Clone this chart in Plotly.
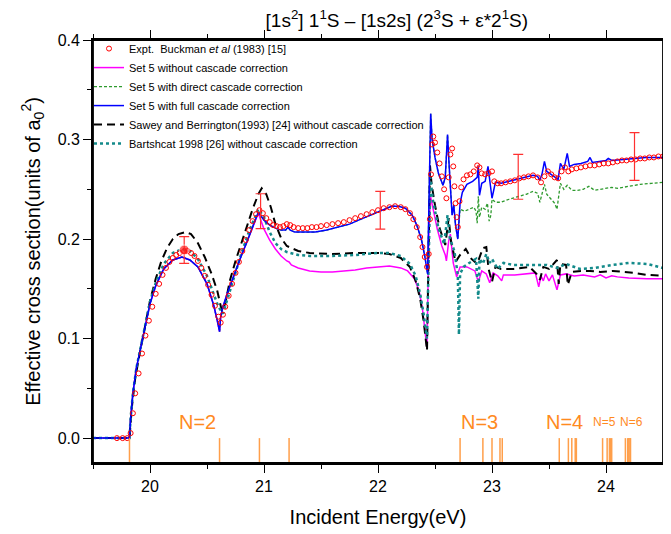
import plotly.graph_objects as go

# ---------------- data ----------------
# Experiment (Buckman et al 1983)
expt_e = [19.71, 19.76, 19.80, 19.83, 19.85, 19.87, 19.90, 19.93, 19.96, 19.99, 20.02, 20.05, 20.08, 20.11,
          20.14, 20.17, 20.20, 20.23, 20.26, 20.30, 20.33, 20.36, 20.39, 20.42, 20.45, 20.48, 20.51, 20.54,
          20.57, 20.60, 20.62, 20.64, 20.66, 20.69, 20.72, 20.75, 20.78, 20.81, 20.84, 20.87, 20.90, 20.93,
          20.96, 20.99, 21.02, 21.05, 21.08, 21.11, 21.14, 21.17, 21.20, 21.23, 21.26, 21.30, 21.34, 21.38,
          21.42, 21.46, 21.50, 21.55, 21.60, 21.65, 21.70, 21.75, 21.80, 21.85, 21.90, 21.95, 22.00, 22.05,
          22.10, 22.15, 22.20, 22.24, 22.28, 22.31, 22.34, 22.37, 22.39, 22.41, 22.43, 22.445, 22.455, 22.465,
          22.475, 22.485, 22.50, 22.52, 22.54, 22.56, 22.58, 22.60, 22.62, 22.635, 22.65, 22.66, 22.67, 22.68,
          22.69, 22.70, 22.715, 22.73, 22.75, 22.78, 22.81, 22.84, 22.87, 22.89, 22.91, 22.94, 22.97, 23.00,
          23.02, 23.05, 23.08, 23.12, 23.16, 23.20, 23.24, 23.28, 23.32, 23.36, 23.40, 23.43, 23.46, 23.49,
          23.52, 23.55, 23.58, 23.61, 23.64, 23.67, 23.70, 23.74, 23.78, 23.82, 23.86, 23.90, 23.94, 23.98,
          24.02, 24.06, 24.10, 24.14, 24.18, 24.22, 24.26, 24.30, 24.34, 24.38, 24.42, 24.46, 24.50]
expt_v = [0.0, 0.0, 0.0, 0.005, 0.025, 0.045, 0.065, 0.085, 0.103, 0.118, 0.132, 0.145, 0.155, 0.164,
          0.171, 0.177, 0.181, 0.184, 0.186, 0.188, 0.188, 0.186, 0.183, 0.178, 0.171, 0.163, 0.154, 0.144,
          0.133, 0.122, 0.116, 0.124, 0.132, 0.143, 0.155, 0.166, 0.177, 0.188, 0.199, 0.209, 0.218, 0.225,
          0.229, 0.226, 0.221, 0.217, 0.214, 0.213, 0.212, 0.213, 0.215, 0.214, 0.212, 0.211, 0.211, 0.211,
          0.212, 0.212, 0.213, 0.214, 0.215, 0.216, 0.217, 0.219, 0.221, 0.223, 0.225, 0.227, 0.229, 0.231,
          0.232, 0.233, 0.232, 0.230, 0.226, 0.220, 0.212, 0.202, 0.192, 0.182, 0.172, 0.185, 0.220, 0.265,
          0.295, 0.303, 0.297, 0.287, 0.276, 0.263, 0.250, 0.241, 0.262, 0.285, 0.291, 0.273, 0.253, 0.236,
          0.222, 0.212, 0.238, 0.252, 0.260, 0.264, 0.265, 0.268, 0.274, 0.272, 0.266, 0.265, 0.266, 0.268,
          0.258, 0.256, 0.256, 0.257, 0.258, 0.259, 0.261, 0.262, 0.263, 0.264, 0.262, 0.257, 0.263, 0.268,
          0.265, 0.262, 0.261, 0.268, 0.272, 0.268, 0.270, 0.271, 0.272, 0.273, 0.274, 0.274, 0.275, 0.276,
          0.276, 0.277, 0.278, 0.279, 0.279, 0.280, 0.280, 0.281, 0.281, 0.282, 0.282, 0.283, 0.283]

# Experimental error bars
bar_e = [20.30, 20.97, 22.02, 23.23, 24.25]
bar_v = [0.189, 0.228, 0.229, 0.2625, 0.283]
bar_err = [0.0135, 0.0175, 0.019, 0.0225, 0.024]

# Set 5 without cascade correction
nocas_e = [19.50, 19.82, 19.83, 19.85, 19.88, 19.92, 19.96, 20.00, 20.05, 20.12, 20.20, 20.28, 20.35, 20.42,
           20.50, 20.56, 20.59, 20.61, 20.62, 20.64, 20.68, 20.73, 20.80, 20.85, 20.90, 20.95, 21.00, 21.05,
           21.10, 21.15, 21.20, 21.22, 21.24, 21.30, 21.40, 21.50, 21.60, 21.70, 21.80, 21.90, 22.00, 22.10,
           22.20, 22.26, 22.32, 22.36, 22.39, 22.41, 22.43, 22.445, 22.46, 22.48, 22.52, 22.56, 22.59, 22.60,
           22.62, 22.635, 22.66, 22.69, 22.72, 22.78, 22.85, 22.88, 22.91, 22.95, 22.98, 23.01, 23.05, 23.085,
           23.10, 23.20, 23.33, 23.38, 23.41, 23.43, 23.45, 23.47, 23.50, 23.53, 23.57, 23.60, 23.65, 23.72,
           23.80, 23.90, 23.95, 24.00, 24.05, 24.10, 24.20, 24.36, 24.50]
nocas_v = [0.0, 0.0, 0.02, 0.045, 0.07, 0.092, 0.113, 0.135, 0.153, 0.170, 0.179, 0.182, 0.179, 0.172,
           0.155, 0.133, 0.118, 0.107, 0.122, 0.132, 0.146, 0.162, 0.183, 0.197, 0.212, 0.226, 0.210, 0.199,
           0.190, 0.183, 0.178, 0.177, 0.174, 0.171, 0.168, 0.167, 0.167, 0.168, 0.169, 0.171, 0.172, 0.173,
           0.171, 0.168, 0.160, 0.148, 0.130, 0.112, 0.090, 0.200, 0.243, 0.232, 0.210, 0.193, 0.184, 0.178,
           0.198, 0.205, 0.176, 0.162, 0.172, 0.172, 0.168, 0.157, 0.168, 0.165, 0.156, 0.166, 0.163, 0.158,
           0.164, 0.164, 0.165, 0.166, 0.152, 0.163, 0.158, 0.165, 0.158, 0.164, 0.149, 0.164, 0.165, 0.163,
           0.164, 0.162, 0.164, 0.161, 0.163, 0.162, 0.161, 0.160, 0.160]

# Set 5 with full cascade correction
full_e = [19.50, 19.82, 19.83, 19.85, 19.88, 19.92, 19.96, 20.00, 20.05, 20.12, 20.20, 20.28, 20.35, 20.42,
          20.50, 20.56, 20.59, 20.61, 20.62, 20.63, 20.64, 20.68, 20.73, 20.80, 20.85, 20.90, 20.95, 21.00,
          21.05, 21.10, 21.15, 21.19, 21.21, 21.23, 21.27, 21.35, 21.45, 21.55, 21.65, 21.75, 21.85, 21.95,
          22.05, 22.12, 22.18, 22.24, 22.30, 22.34, 22.38, 22.41, 22.435, 22.45, 22.462, 22.475, 22.50, 22.53,
          22.57, 22.59, 22.61, 22.625, 22.65, 22.665, 22.68, 22.70, 22.72, 22.74, 22.78, 22.83, 22.87, 22.88,
          22.89, 22.91, 22.94, 22.965, 22.98, 23.00, 23.03, 23.08, 23.15, 23.22, 23.30, 23.36, 23.40, 23.42,
          23.44, 23.46, 23.48, 23.52, 23.56, 23.58, 23.60, 23.63, 23.66, 23.68, 23.72, 23.78, 23.84, 23.86,
          23.88, 23.95, 24.00, 24.02, 24.05, 24.15, 24.25, 24.35, 24.50]
full_v = [0.0, 0.0, 0.02, 0.045, 0.07, 0.092, 0.113, 0.135, 0.153, 0.170, 0.179, 0.182, 0.179, 0.172,
          0.155, 0.133, 0.118, 0.107, 0.122, 0.128, 0.132, 0.146, 0.162, 0.183, 0.197, 0.212, 0.227, 0.219,
          0.214, 0.211, 0.209, 0.209, 0.212, 0.209, 0.207, 0.207, 0.207, 0.209, 0.212, 0.215, 0.220, 0.225,
          0.230, 0.233, 0.233, 0.231, 0.224, 0.214, 0.200, 0.183, 0.165, 0.250, 0.326, 0.300, 0.282, 0.266,
          0.254, 0.262, 0.305, 0.272, 0.224, 0.234, 0.214, 0.200, 0.236, 0.247, 0.255, 0.258, 0.262, 0.273,
          0.244, 0.256, 0.258, 0.273, 0.258, 0.241, 0.257, 0.256, 0.258, 0.260, 0.262, 0.264, 0.263, 0.259,
          0.266, 0.278, 0.268, 0.265, 0.262, 0.260, 0.276, 0.270, 0.286, 0.273, 0.275, 0.276, 0.278, 0.282,
          0.277, 0.278, 0.279, 0.281, 0.279, 0.280, 0.281, 0.282, 0.282]

# Set 5 with direct cascade correction
direct_e = [19.50, 19.82, 19.83, 19.85, 19.88, 19.92, 19.96, 20.00, 20.05, 20.12, 20.20, 20.28, 20.35, 20.42,
            20.50, 20.56, 20.59, 20.61, 20.62, 20.64, 20.68, 20.73, 20.80, 20.85, 20.90, 20.95, 21.00, 21.05,
            21.10, 21.15, 21.19, 21.21, 21.23, 21.27, 21.35, 21.45, 21.55, 21.65, 21.75, 21.85, 21.95, 22.05,
            22.12, 22.18, 22.24, 22.30, 22.34, 22.38, 22.41, 22.435, 22.45, 22.462, 22.475, 22.50, 22.53, 22.57,
            22.59, 22.61, 22.625, 22.65, 22.665, 22.68, 22.70, 22.72, 22.76, 22.80, 22.84, 22.86, 22.87, 22.88,
            22.89, 22.91, 22.94, 22.96, 22.975, 22.99, 23.00, 23.03, 23.08, 23.15, 23.22, 23.30, 23.36, 23.40,
            23.42, 23.44, 23.46, 23.48, 23.52, 23.55, 23.57, 23.60, 23.63, 23.66, 23.70, 23.75, 23.80, 23.85,
            23.90, 23.95, 24.00, 24.05, 24.10, 24.20, 24.30, 24.40, 24.50]
direct_v = [0.0, 0.0, 0.02, 0.045, 0.07, 0.092, 0.113, 0.135, 0.153, 0.170, 0.179, 0.182, 0.179, 0.172,
            0.155, 0.133, 0.118, 0.107, 0.122, 0.132, 0.146, 0.162, 0.183, 0.197, 0.212, 0.227, 0.219, 0.214,
            0.211, 0.209, 0.209, 0.212, 0.209, 0.207, 0.207, 0.207, 0.209, 0.212, 0.215, 0.220, 0.225, 0.230,
            0.233, 0.233, 0.231, 0.224, 0.214, 0.200, 0.183, 0.165, 0.250, 0.326, 0.300, 0.282, 0.266, 0.254,
            0.262, 0.305, 0.272, 0.224, 0.234, 0.214, 0.200, 0.230, 0.228, 0.230, 0.232, 0.228, 0.216, 0.243,
            0.222, 0.232, 0.230, 0.236, 0.218, 0.224, 0.240, 0.237, 0.237, 0.240, 0.242, 0.245, 0.248, 0.246,
            0.237, 0.245, 0.255, 0.245, 0.240, 0.236, 0.230, 0.256, 0.250, 0.254, 0.249, 0.249, 0.250, 0.253,
            0.249, 0.250, 0.251, 0.252, 0.251, 0.253, 0.255, 0.256, 0.257]

# Sawey and Berrington (1993)
sawey_e = [19.50, 19.82, 19.84, 19.87, 19.91, 19.95, 20.00, 20.05, 20.10, 20.15, 20.20, 20.25, 20.31, 20.36,
           20.42, 20.48, 20.54, 20.59, 20.63, 20.66, 20.70, 20.75, 20.80, 20.85, 20.90, 20.95, 20.98, 21.02,
           21.06, 21.10, 21.15, 21.20, 21.30, 21.40, 21.60, 21.80, 22.00, 22.10, 22.20, 22.28, 22.33, 22.37,
           22.40, 22.43, 22.445, 22.456, 22.47, 22.50, 22.54, 22.59, 22.62, 22.64, 22.68, 22.72, 22.77, 22.82,
           22.87, 22.92, 22.95, 22.97, 23.00, 23.03, 23.08, 23.19, 23.33, 23.39, 23.42, 23.45, 23.50, 23.57,
           23.585, 23.60, 23.65, 23.665, 23.70, 23.78, 23.86, 23.95, 24.06, 24.15, 24.25, 24.36, 24.50]
sawey_v = [0.0, 0.0, 0.03, 0.06, 0.085, 0.108, 0.138, 0.160, 0.178, 0.191, 0.200, 0.205, 0.207, 0.205,
           0.196, 0.182, 0.165, 0.148, 0.128, 0.135, 0.158, 0.178, 0.196, 0.213, 0.230, 0.245, 0.251, 0.245,
           0.232, 0.215, 0.201, 0.193, 0.188, 0.186, 0.185, 0.186, 0.186, 0.185, 0.181, 0.172, 0.158, 0.140,
           0.118, 0.088, 0.200, 0.274, 0.255, 0.234, 0.211, 0.194, 0.221, 0.198, 0.177, 0.184, 0.190, 0.180,
           0.175, 0.191, 0.192, 0.170, 0.157, 0.172, 0.170, 0.170, 0.172, 0.165, 0.159, 0.172, 0.170, 0.179,
           0.155, 0.175, 0.174, 0.154, 0.167, 0.168, 0.168, 0.167, 0.168, 0.167, 0.166, 0.164, 0.163]

# Bartschat 1998
bart_e = [19.50, 19.82, 19.83, 19.85, 19.88, 19.92, 19.96, 20.00, 20.05, 20.12, 20.20, 20.28, 20.35, 20.42,
          20.50, 20.56, 20.60, 20.64, 20.68, 20.73, 20.80, 20.87, 20.95, 21.00, 21.05, 21.10, 21.15, 21.20,
          21.30, 21.40, 21.60, 21.80, 22.00, 22.10, 22.20, 22.28, 22.33, 22.37, 22.40, 22.43, 22.445, 22.46,
          22.48, 22.53, 22.58, 22.61, 22.63, 22.67, 22.70, 22.71, 22.72, 22.75, 22.80, 22.86, 22.88, 22.89,
          22.92, 22.95, 22.98, 23.00, 23.05, 23.10, 23.19, 23.33, 23.48, 23.57, 23.65, 23.77, 23.90, 24.06,
          24.20, 24.36, 24.50]
bart_v = [0.0, 0.0, 0.02, 0.045, 0.07, 0.093, 0.115, 0.137, 0.156, 0.175, 0.186, 0.190, 0.188, 0.180,
          0.163, 0.145, 0.132, 0.125, 0.140, 0.160, 0.185, 0.208, 0.230, 0.222, 0.207, 0.196, 0.190, 0.187,
          0.184, 0.183, 0.183, 0.184, 0.186, 0.186, 0.183, 0.175, 0.163, 0.145, 0.125, 0.100, 0.180, 0.262,
          0.240, 0.211, 0.195, 0.224, 0.201, 0.188, 0.164, 0.104, 0.165, 0.172, 0.176, 0.180, 0.140, 0.180,
          0.175, 0.185, 0.176, 0.180, 0.170, 0.176, 0.174, 0.174, 0.174, 0.171, 0.175, 0.170, 0.171, 0.174,
          0.176, 0.175, 0.171]

# Threshold energies of He n=2..6 levels
level_e = [19.82, 20.61, 20.96, 21.22, 22.72, 22.92, 23.00, 23.07, 23.09, 23.59, 23.67, 23.70, 23.73, 23.74,
           23.97, 24.01, 24.03, 24.04, 24.05, 24.17, 24.19, 24.20, 24.21, 24.215]
level_lo = -0.025
level_hi = 0.0
n_labels = ["N=2", "N=3", "N=4", "N=5", "N=6"]
n_label_e = [20.42, 22.89, 23.64, 23.985, 24.225]
n_label_v = [0.016, 0.016, 0.016, 0.016, 0.016]
n_label_size = [20, 20, 20, 12, 12]

# ---------------- figure ----------------
FONT = "Liberation Sans, Arial, sans-serif"
fig = go.Figure()

fig.add_trace(go.Scatter(x=nocas_e, y=nocas_v, mode="lines", name="Set 5 without cascade correction",
                         line=dict(color="#FF00FF", width=1.5), legendrank=2))
fig.add_trace(go.Scatter(x=direct_e, y=direct_v, mode="lines", name="Set 5 with direct cascade correction",
                         line=dict(color="#2E9A2E", width=1.3, dash="3px,2px"), legendrank=3))
fig.add_trace(go.Scatter(x=sawey_e, y=sawey_v, mode="lines",
                         name="Sawey and Berrington(1993) [24] without cascade correction",
                         line=dict(color="black", width=2, dash="8px,5px"), legendrank=5))
fig.add_trace(go.Scatter(x=bart_e, y=bart_v, mode="lines",
                         name="Bartshcat 1998 [26] without cascade correction",
                         line=dict(color="#138A8A", width=2.5, dash="dot"), legendrank=6))
fig.add_trace(go.Scatter(x=full_e, y=full_v, mode="lines", name="Set 5 with full cascade correction",
                         line=dict(color="#0000FF", width=1.5), legendrank=4))
fig.add_trace(go.Scatter(x=expt_e, y=expt_v, mode="markers",
                         name="Expt.&nbsp; Buckman <i>et al</i> (1983) [15]",
                         marker=dict(symbol="circle-open", color="#FF0000", size=5, line=dict(width=1)),
                         legendrank=1))
fig.add_trace(go.Scatter(x=bar_e, y=bar_v, mode="markers", showlegend=False,
                         marker=dict(color="#FF2020", size=[10, 0, 0, 0, 0]),
                         error_y=dict(type="data", array=bar_err, color="#FF3030", thickness=1.2, width=5)))

for e in level_e:
    fig.add_shape(type="line", xref="x", yref="y", x0=e, x1=e, y0=level_lo, y1=level_hi,
                  line=dict(color="#FF9F4A", width=1.5))

# frame around the plotting area
fig.add_shape(type="rect", xref="paper", yref="paper", x0=0, x1=1, y0=0, y1=1,
              line=dict(color="black", width=1.8), fillcolor="rgba(0,0,0,0)", layer="above")

for t, xe, yv, sz in zip(n_labels, n_label_e, n_label_v, n_label_size):
    fig.add_annotation(x=xe, y=yv, text=t, showarrow=False, xref="x", yref="y",
                       font=dict(family=FONT, size=sz, color="#FF8A1E"), yanchor="middle")

# the page puts the figure 8 px in from the top-left corner, so the figure is 8 px smaller
fig.update_layout(
    width=663, height=526,
    margin=dict(l=85, r=8, t=32, b=71, autoexpand=False),
    paper_bgcolor="white", plot_bgcolor="white",
    font=dict(family=FONT, color="black"),
    title=dict(text="[1s<sup>2</sup>] 1<sup>1</sup>S \u2013 [1s2s] (2<sup>3</sup>S + \u03b5*2<sup>1</sup>S)",
               x=0.533, xref="paper", xanchor="center", y=0.976, yref="container", yanchor="middle",
               font=dict(family=FONT, size=19, color="black")),
    showlegend=True,
    legend=dict(x=-0.007, y=1.014, xanchor="left", yanchor="top", bgcolor="rgba(0,0,0,0)",
                font=dict(family=FONT, size=11, color="black"), borderwidth=0),
    xaxis=dict(range=[19.5, 24.5], dtick=1, tick0=20, showgrid=False, zeroline=False, automargin=False,
               showline=True, linecolor="black", linewidth=1.8, mirror="ticks",
               ticks="outside", ticklen=8, tickwidth=1.4, tickcolor="black",
               tickfont=dict(family=FONT, size=16),
               minor=dict(dtick=0.5, tick0=19.5, ticks="outside", ticklen=4, tickwidth=1.2, tickcolor="black"),
               title=dict(text="Incident Energy(eV)", font=dict(family=FONT, size=20), standoff=16)),
    yaxis=dict(range=[-0.025, 0.4], dtick=0.1, tick0=0, tickformat=".1f", showgrid=False, zeroline=False,
               automargin=False,
               showline=True, linecolor="black", linewidth=1.8, mirror="ticks",
               ticks="outside", ticklen=8, tickwidth=1.4, tickcolor="black",
               tickfont=dict(family=FONT, size=16),
               minor=dict(dtick=0.05, tick0=0, ticks="outside", ticklen=4, tickwidth=1.2, tickcolor="black"),
               title=dict(text="Effective cross section(units of a<sub>0</sub><sup>2</sup>)",
                          font=dict(family=FONT, size=20), standoff=12)),
)

fig.write_html("out.html")
